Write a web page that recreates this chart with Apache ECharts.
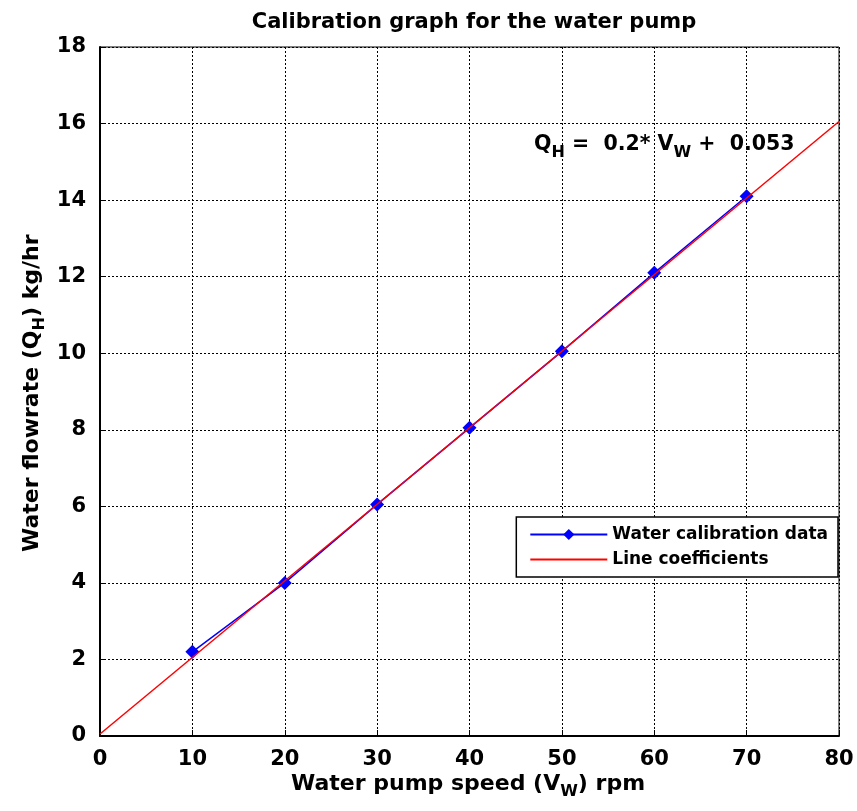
<!DOCTYPE html>
<html>
<head>
<meta charset="utf-8">
<script src="https://cdn.jsdelivr.net/npm/echarts@6/dist/echarts.min.js"></script>
<style>
  html, body { margin: 0; padding: 0; background: #fff; }
  #chart { width: 857px; height: 811px; }
</style>
</head>
<body>
<div id="chart"></div>
<script>
// Pump speed (rpm) and measured water flow rate (kg/hr)
const pumpSpeed = [10, 20, 30, 40, 50, 60, 70];
const flowRate = [2.2, 4.0, 6.05, 8.05, 10.05, 12.1, 14.1];
// Fitted line Q_H = 0.2*V_W + 0.053, endpoints over the axis range
const fitSpeed = [0, 80];
const fitFlow = [0.053, 16.053];

const xTicks = { min: 0, max: 80, interval: 10 };
const yTicks = { min: 0, max: 18, interval: 2 };

const FONT = '"DejaVu Sans", Verdana, sans-serif';
const chart = echarts.init(document.getElementById('chart'), null, { renderer: 'canvas' });

const gridLeft = 100, gridRight = 18, gridTop = 47, gridBottom = 75;

const axisCommon = {
  axisLine: { show: true, onZero: false, lineStyle: { color: '#000', width: 2 } },
  axisTick: { show: true, inside: true, length: 6, lineStyle: { color: '#000', width: 1 } },
  splitLine: { show: true, lineStyle: { color: '#000', type: [2, 2], width: 1 } },
  axisLabel: { color: '#000', fontSize: 21, fontWeight: 'bold', fontFamily: FONT }
};

const option = {
  animation: false,
  backgroundColor: '#fff',
  title: {
    text: 'Calibration graph for the water pump',
    left: 469, top: 7, textAlign: 'center',
    textStyle: { fontSize: 21, fontWeight: 'bold', color: '#000', fontFamily: FONT }
  },
  grid: {
    left: gridLeft, right: gridRight, top: gridTop, bottom: gridBottom,
    show: true, borderColor: '#000', borderWidth: 1, backgroundColor: 'transparent'
  },
  xAxis: Object.assign({
    type: 'value', min: xTicks.min, max: xTicks.max, interval: xTicks.interval
  }, axisCommon, { axisLabel: Object.assign({}, axisCommon.axisLabel, { margin: 13 }) }),
  yAxis: Object.assign({
    type: 'value', min: yTicks.min, max: yTicks.max, interval: yTicks.interval
  }, axisCommon, { axisLabel: Object.assign({}, axisCommon.axisLabel, { margin: 14 }) }),
  legend: {
    orient: 'vertical',
    right: 19, top: 517,
    padding: [9, 10, 9, 13],
    itemGap: 8,
    itemWidth: 77, itemHeight: 14,
    backgroundColor: '#fff',
    borderColor: '#000', borderWidth: 1.5,
    textStyle: { fontSize: 17, fontWeight: 'bold', color: '#000', fontFamily: FONT },
    data: [
      { name: 'Water calibration data' },
      { name: 'Line coefficients', itemStyle: { opacity: 0 } }
    ]
  },
  series: [
    {
      name: 'Line coefficients',
      type: 'line',
      data: fitSpeed.map((v, i) => [v, fitFlow[i]]),
      showSymbol: false,
      symbol: 'none',
      lineStyle: { color: '#ff0000', width: 1.5 },
      itemStyle: { color: '#ff0000' },
      z: 3
    },
    {
      name: 'Water calibration data',
      type: 'line',
      data: pumpSpeed.map((v, i) => [v, flowRate[i]]),
      symbol: 'diamond',
      symbolSize: 14,
      lineStyle: { color: '#0000ff', width: 1.5 },
      itemStyle: { color: '#0000ff' },
      z: 2
    }
  ],
  graphic: [
    {
      type: 'text',
      left: 291, top: 773,
      style: {
        text: '{m|Water pump speed (V}{s|W}{m|) rpm}',
        rich: {
          m: { fontSize: 22, fontWeight: 'bold', fill: '#000', fontFamily: FONT },
          s: { fontSize: 16, fontWeight: 'bold', fill: '#000', fontFamily: FONT, padding: [16, 0, 0, 0] }
        }
      }
    },
    {
      type: 'text',
      x: 16, y: 552,
      rotation: Math.PI / 2,
      style: {
        text: '{m|Water flowrate (Q}{s|H}{m|) kg/hr}',
        rich: {
          m: { fontSize: 22, fontWeight: 'bold', fill: '#000', fontFamily: FONT },
          s: { fontSize: 16, fontWeight: 'bold', fill: '#000', fontFamily: FONT, padding: [16, 0, 0, 0] }
        }
      }
    },
    {
      type: 'text',
      left: 534, top: 134,
      style: {
        text: '{m|Q}{s|H}{m| =  0.2* V}{s|W}{m| +  0.053}',
        rich: {
          m: { fontSize: 20.5, fontWeight: 'bold', fill: '#000', fontFamily: FONT },
          s: { fontSize: 16, fontWeight: 'bold', fill: '#000', fontFamily: FONT, padding: [16, 0, 0, 0] }
        }
      }
    }
  ]
};
chart.setOption(option);
</script>
</body>
</html>
